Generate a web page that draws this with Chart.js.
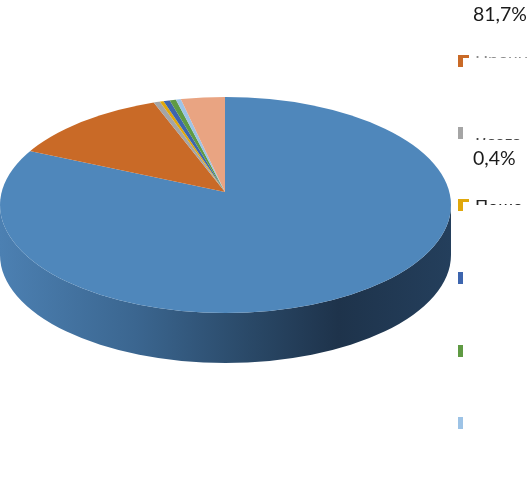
<!DOCTYPE html>
<html>
<head>
<meta charset="utf-8">
<script src="https://cdn.jsdelivr.net/npm/chart.js@4"></script>
<style>
  html, body { margin: 0; padding: 0; background: #fff; }
  #wrap { position: relative; width: 527px; height: 480px; overflow: hidden; font-family: Lato, sans-serif; }
  canvas { position: absolute; left: 0; top: 0; }
  .pct { position: absolute; left: 473px; font-size: 19.5px; line-height: 20px; color: #1a1a1a; }
  .key { position: absolute; }
  .clip { position: absolute; left: 475px; width: 52px; overflow: hidden; white-space: nowrap; font-size: 18px; }
</style>
</head>
<body>
<div id="wrap">
  <canvas id="pie" width="527" height="480"></canvas>
</div>
<script>
const values = [81.7, 12.6, 0.5, 0.3, 0.5, 0.5, 0.4, 3.5];
const colors = ["#4f87bb", "#c96a27", "#a5a5a5", "#e0a80c", "#3d65ae", "#5f9a43", "#9dc3e6", "#e9a482"];
const shownLabels = [["81,7%", 4], ["0,4%", 148]];
// legend keys, one per slice after the first
const keyTops = [55, 127, 199, 272, 345, 417];
// text, top, visible height, line height, colour
const clippedText = [["Прочие", 56, 2, 7, "#8a8a8a"], ["Всего", 138, 2, 7, "#444"], ["Поше", 199, 6, 14, "#222"]];

const tilt = 0.47;
const rim = { cx: 225.5, cy: 205, rx: 225.5, ry: 108, depth: 50 };

const pie3d = {
  id: "pie3d",
  beforeDatasetsDraw(chart) {
    const ctx = chart.ctx;
    const arc = chart.getDatasetMeta(0).data[0];

    // the wall of the disc, below the front half of the rim
    const wall = ctx.createLinearGradient(0, 0, rim.cx * 2, 0);
    wall.addColorStop(0, "#4c80b2");
    wall.addColorStop(0.3, "#3b6690");
    wall.addColorStop(0.55, "#2a4968");
    wall.addColorStop(0.75, "#1e334b");
    wall.addColorStop(1, "#243f5c");
    ctx.save();
    ctx.fillStyle = wall;
    ctx.beginPath();
    ctx.ellipse(rim.cx, rim.cy, rim.rx, rim.ry, 0, Math.PI, 0, true);
    ctx.lineTo(rim.cx + rim.rx, rim.cy + rim.depth);
    ctx.ellipse(rim.cx, rim.cy + rim.depth, rim.rx, rim.ry, 0, 0, Math.PI, false);
    ctx.closePath();
    ctx.fill();
    ctx.restore();

    // slices fan out from the apex, which sits above the middle of the rim
    ctx.save();
    ctx.beginPath();
    ctx.ellipse(rim.cx, rim.cy, rim.rx, rim.ry, 0, 0, Math.PI * 2);
    ctx.clip();
    ctx.translate(arc.x, arc.y);
    ctx.scale(1, tilt);
    ctx.translate(-arc.x, -arc.y);
  },
  afterDatasetsDraw(chart) {
    chart.ctx.restore();
  }
};

new Chart(document.getElementById("pie"), {
  type: "pie",
  data: {
    datasets: [{
      data: values,
      backgroundColor: colors,
      borderWidth: 0,
      clip: false
    }]
  },
  options: {
    responsive: false,
    animation: false,
    radius: 280,
    layout: { padding: { left: 0, right: 77, top: 0, bottom: 96 } },
    plugins: { legend: { display: false }, tooltip: { enabled: false } },
    events: []
  },
  plugins: [pie3d]
});

const wrap = document.getElementById("wrap");

function addBox(left, top, width, height, color) {
  const el = document.createElement("div");
  el.className = "key";
  el.style.cssText = `left:${left}px;top:${top}px;width:${width}px;height:${height}px;background:${color}`;
  wrap.appendChild(el);
}

keyTops.forEach((top, i) => {
  const color = colors[i + 1];
  addBox(458, top, 5, 12, color);
  // the first and third keys show a corner of the swatch
  if (i === 0 || i === 2) addBox(458, top, 11, 3, color);
});

shownLabels.forEach(([text, top]) => {
  const el = document.createElement("div");
  el.className = "pct";
  el.style.top = top + "px";
  el.textContent = text;
  wrap.appendChild(el);
});

clippedText.forEach(([text, top, height, lineHeight, color]) => {
  const el = document.createElement("div");
  el.className = "clip";
  el.style.top = top + "px";
  el.style.height = height + "px";
  el.style.lineHeight = lineHeight + "px";
  el.style.color = color;
  el.textContent = text;
  wrap.appendChild(el);
});
</script>
</body>
</html>
